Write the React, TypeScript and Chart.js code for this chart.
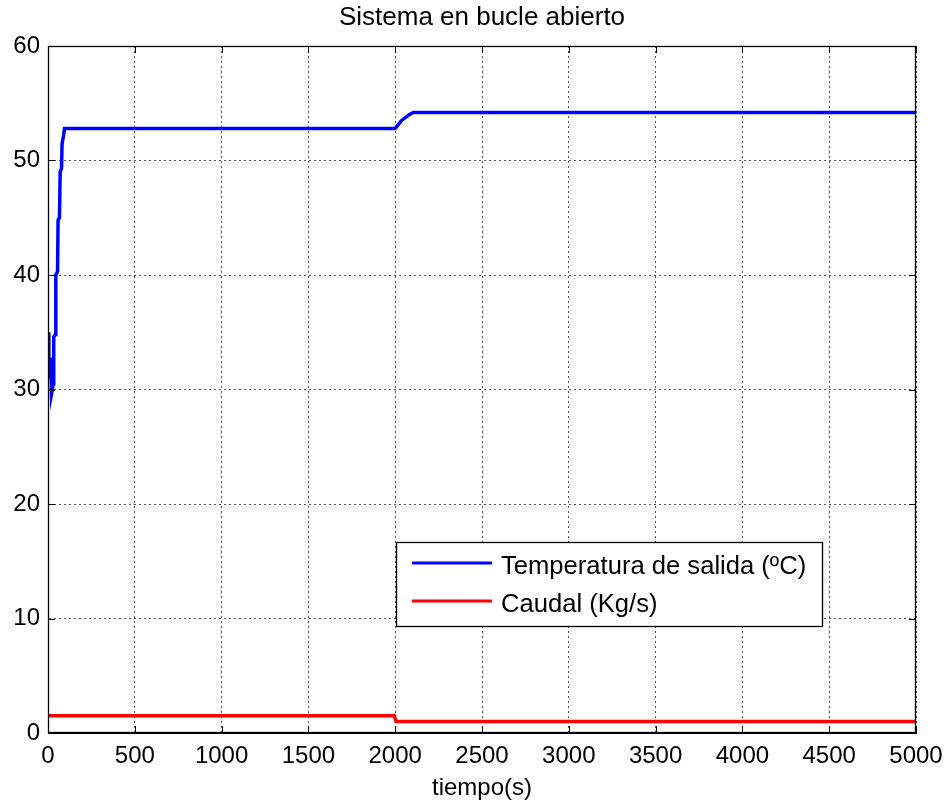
import React, { useEffect, useRef } from "react";
import { Chart, registerables } from "chart.js";

Chart.register(...registerables);

const TITLE = "Sistema en bucle abierto";
const X_LABEL = "tiempo(s)";
const X_TICKS = [0, 500, 1000, 1500, 2000, 2500, 3000, 3500, 4000, 4500, 5000];
const Y_TICKS = [0, 10, 20, 30, 40, 50, 60];

const TEMP_LABEL = "Temperatura de salida (ºC)";
const TEMP_T = [0, 5, 10, 15, 20, 25, 30, 33, 42, 45, 55, 58, 66, 70, 78, 81, 90, 95, 2000, 2037, 2081, 2104, 5000];
const TEMP_V = [35, 32.5, 31, 32.8, 29.6, 30, 30.5, 34.6, 34.8, 40, 40.3, 44.8, 45, 49, 49.3, 51.5, 52.2, 52.8, 52.8, 53.5, 54.0, 54.2, 54.2];

const FLOW_LABEL = "Caudal (Kg/s)";
const FLOW_T = [0, 1995, 2005, 5000];
const FLOW_V = [1.5, 1.5, 1.0, 1.0];

const FONT = "'Liberation Sans', Arial, sans-serif";

const matlabPlugin = {
  id: "matlabDecor",
  afterDraw(chart: any) {
    const { ctx, chartArea } = chart;
    const { left, right, top, bottom } = chartArea;
    const xs = chart.scales.x;
    const ys = chart.scales.y;
    ctx.save();
    // box
    ctx.strokeStyle = "#000";
    ctx.lineWidth = 1.3;
    ctx.setLineDash([]);
    ctx.strokeRect(left + 0.5, top + 0.5, right - left - 1, bottom - top - 1);
    // inward ticks
    const tl = 7;
    ctx.lineWidth = 1;
    ctx.beginPath();
    X_TICKS.forEach((v) => {
      const px = Math.round(xs.getPixelForValue(v)) + 0.5;
      ctx.moveTo(px, bottom);
      ctx.lineTo(px, bottom - tl);
      ctx.moveTo(px, top);
      ctx.lineTo(px, top + tl);
    });
    Y_TICKS.forEach((v) => {
      const py = Math.round(ys.getPixelForValue(v)) + 0.5;
      ctx.moveTo(left, py);
      ctx.lineTo(left + tl, py);
      ctx.moveTo(right, py);
      ctx.lineTo(right - tl, py);
    });
    ctx.stroke();
    // title
    ctx.fillStyle = "#000";
    ctx.font = `26px ${FONT}`;
    ctx.textAlign = "center";
    ctx.textBaseline = "middle";
    ctx.fillText(TITLE, (left + right) / 2, 18);
    // legend
    const lx = 396, ly = 542, lw = 426, lh = 84;
    ctx.fillStyle = "#fff";
    ctx.fillRect(lx, ly, lw, lh);
    ctx.strokeStyle = "#000";
    ctx.lineWidth = 1.3;
    ctx.strokeRect(lx + 0.5, ly + 0.5, lw, lh);
    const rows = [563, 601];
    chart.data.datasets.forEach((ds: any, i: number) => {
      const y = rows[i];
      ctx.strokeStyle = ds.borderColor;
      ctx.lineWidth = 3;
      ctx.beginPath();
      ctx.moveTo(412, y);
      ctx.lineTo(492, y);
      ctx.stroke();
      ctx.fillStyle = "#000";
      ctx.font = `25.6px ${FONT}`;
      ctx.textAlign = "left";
      ctx.textBaseline = "middle";
      ctx.fillText(ds.label, 501, y + 3.5);
    });
    ctx.restore();
  },
};

export default function App() {
  const ref = useRef<HTMLCanvasElement>(null);
  useEffect(() => {
    if (!ref.current) return;
    const chart = new Chart(ref.current, {
      type: "line",
      data: {
        datasets: [
          {
            label: TEMP_LABEL,
            data: TEMP_T.map((t, i) => ({ x: t, y: TEMP_V[i] })),
            borderColor: "#0000ff",
            borderWidth: 3.5,
            pointRadius: 0,
            tension: 0,
          },
          {
            label: FLOW_LABEL,
            data: FLOW_T.map((t, i) => ({ x: t, y: FLOW_V[i] })),
            borderColor: "#ff0000",
            borderWidth: 3.5,
            pointRadius: 0,
            tension: 0,
          },
        ],
      },
      options: {
        animation: false,
        responsive: false,
        devicePixelRatio: 1,
        layout: { padding: { left: 0, right: 32, top: 46, bottom: 0 } },
        plugins: {
          legend: { display: false },
          title: { display: false },
          tooltip: { enabled: false },
        },
        scales: {
          x: {
            type: "linear",
            min: 0,
            max: 5000,
            afterBuildTicks: (s: any) => {
              s.ticks = X_TICKS.map((v) => ({ value: v }));
            },
            afterFit: (s: any) => {
              s.height = 70;
              s.paddingLeft = 0;
              s.paddingRight = 0;
            },
            ticks: {
              autoSkip: false,
              maxRotation: 0,
              color: "#000",
              padding: 9,
              font: { family: FONT, size: 24 },
              callback: (v: any) => String(v),
            },
            grid: { color: "#555", lineWidth: 1, drawTicks: false },
            border: { display: true, color: "#000", dash: [2, 3] },
            title: {
              display: true,
              text: X_LABEL,
              color: "#000",
              font: { family: FONT, size: 24 },
              padding: { top: 0, bottom: 0 },
            },
          },
          y: {
            type: "linear",
            min: 0,
            max: 60,
            afterBuildTicks: (s: any) => {
              s.ticks = Y_TICKS.map((v) => ({ value: v }));
            },
            afterFit: (s: any) => {
              s.width = 48;
              s.paddingTop = 0;
              s.paddingBottom = 0;
            },
            ticks: {
              color: "#000",
              padding: 8,
              font: { family: FONT, size: 24 },
              callback: (v: any) => String(v),
            },
            grid: { color: "#555", lineWidth: 1, drawTicks: false },
            border: { display: true, color: "#000", dash: [2, 3] },
          },
        },
      },
      plugins: [matlabPlugin],
    });
    return () => chart.destroy();
  }, []);
  return (
    <div style={{ position: "fixed", left: 0, top: 0, width: 948, height: 803, background: "#fff" }}>
      <canvas ref={ref} width={948} height={803} style={{ display: "block" }} />
    </div>
  );
}
